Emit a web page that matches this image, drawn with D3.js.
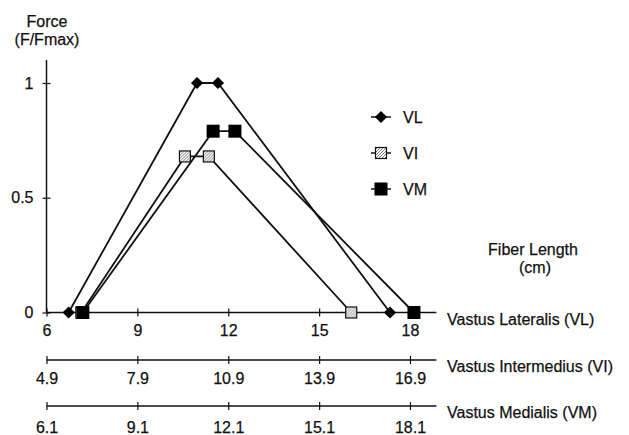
<!DOCTYPE html>
<html lang="en">
<head>
  <meta charset="UTF-8">
  <title>Force vs Fiber Length</title>
  <script src="https://d3js.org/d3.v7.min.js"></script>
  <style>
    body { margin: 0; background: #fff; }
    text { font-family: "Liberation Sans", Arial, sans-serif; font-size: 16px; fill: #111; stroke: #111; stroke-width: 0.25px; }
  </style>
</head>
<body>
  <svg width="629" height="435"></svg>

  <script>
    // each muscle's fiber length is read on its own axis (cm)
    const vlLength = [6.73, 10.97, 11.66, 17.34];
    const vlForce  = [0, 1, 1, 0];
    const viLength = [6.05, 9.47, 10.26, 14.96];
    const viForce  = [0, 0.68, 0.68, 0];
    const vmLength = [7.3, 11.6, 12.32, 18.23];
    const vmForce  = [0, 0.79, 0.79, 0];

    const vlTicks = [6, 9, 12, 15, 18];
    const viTicks = [4.9, 7.9, 10.9, 13.9, 16.9];
    const vmTicks = [6.1, 9.1, 12.1, 15.1, 18.1];
    const forceTicks = [0, 0.5, 1];

    const svg = d3.select("svg");

    const left = 46.5, right = 410;
    const xVL = d3.scaleLinear().domain([6, 18]).range([left, right]);
    const xVI = d3.scaleLinear().domain([4.9, 16.9]).range([left, right]);
    const xVM = d3.scaleLinear().domain([6.1, 18.1]).range([left, right]);
    const y = d3.scaleLinear().domain([0, 1]).range([312.5, 83]);

    // hatch for VI marker
    const defs = svg.append("defs");
    const pat = defs.append("pattern")
        .attr("id", "hatch")
        .attr("width", 3).attr("height", 3)
        .attr("patternUnits", "userSpaceOnUse");
    pat.append("rect").attr("width", 3).attr("height", 3).attr("fill", "#fff");
    pat.append("path").attr("d", "M0,3 L3,0").attr("stroke", "#555").attr("stroke-width", 0.8);

    // bottom axes
    function drawAxis(scale, ticks, yPos, label, extendTo, pad) {
      const g = svg.append("g").attr("transform", `translate(0,${yPos})`);
      g.call(d3.axisBottom(scale).tickValues(ticks).tickFormat(d => d).tickSize(4).tickPadding(pad));
      g.select(".domain").remove();
      g.selectAll(".tick line").attr("y1", -4).attr("y2", 4).attr("stroke", "#111").attr("stroke-width", 1.2);
      g.selectAll(".tick text").style("font-size", "16px").attr("fill", "#111");
      g.append("line")
          .attr("x1", scale.range()[0]).attr("x2", scale(extendTo))
          .attr("stroke", "#111").attr("stroke-width", 1.5);
      svg.append("text")
          .attr("x", 447).attr("y", yPos + 12)
          .text(label);
    }
    drawAxis(xVL, vlTicks, 312.5, "Vastus Lateralis (VL)", 18.87, 8);
    drawAxis(xVI, viTicks, 360, "Vastus Intermedius (VI)", 17.77, 9);
    drawAxis(xVM, vmTicks, 406, "Vastus Medialis (VM)", 18.97, 12);

    // y axis
    const gy = svg.append("g").attr("transform", `translate(${left},0)`);
    gy.call(d3.axisLeft(y).tickValues(forceTicks).tickFormat(d => d).tickSize(4).tickPadding(9));
    gy.select(".domain").remove();
    gy.selectAll(".tick line").attr("x1", -4).attr("x2", 4).attr("stroke", "#111").attr("stroke-width", 1.2);
    gy.selectAll(".tick text").style("font-size", "16px").attr("fill", "#111");
    gy.append("line").attr("y1", y(0)).attr("y2", y(1.1)).attr("stroke", "#111").attr("stroke-width", 1.5);

    svg.append("text").attr("x", 47).attr("y", 27).attr("text-anchor", "middle").text("Force");
    svg.append("text").attr("x", 47).attr("y", 45).attr("text-anchor", "middle").text("(F/Fmax)");
    svg.append("text").attr("x", 533).attr("y", 255).attr("text-anchor", "middle").text("Fiber Length");
    svg.append("text").attr("x", 535).attr("y", 273).attr("text-anchor", "middle").text("(cm)");

    const series = [
      { name: "VL", xs: vlLength, ys: vlForce, scale: xVL, shape: "diamond" },
      { name: "VI", xs: viLength, ys: viForce, scale: xVI, shape: "hatch" },
      { name: "VM", xs: vmLength, ys: vmForce, scale: xVM, shape: "square" }
    ];

    function marker(g, shape) {
      if (shape === "diamond") {
        g.append("path").attr("d", d3.symbol(d3.symbolDiamond2, 95)()).attr("fill", "#000");
      } else if (shape === "square") {
        g.append("rect").attr("x", -6.5).attr("y", -6.5).attr("width", 13).attr("height", 13).attr("fill", "#000");
      } else {
        g.append("rect").attr("x", -5.5).attr("y", -5.5).attr("width", 11).attr("height", 11)
            .attr("fill", "url(#hatch)").attr("stroke", "#111").attr("stroke-width", 1.2);
      }
    }

    const line = d3.line();
    series.forEach(s => {
      const pts = s.xs.map((v, i) => [s.scale(v), y(s.ys[i])]);
      svg.append("path")
          .attr("d", line(pts))
          .attr("fill", "none")
          .attr("stroke", "#111")
          .attr("stroke-width", 1.8);
    });
    series.forEach(s => {
      s.xs.forEach((v, i) => {
        const g = svg.append("g").attr("transform", `translate(${s.scale(v)},${y(s.ys[i])})`);
        marker(g, s.shape);
      });
    });

    // legend
    const legendY = [117, 153, 189];
    series.forEach((s, i) => {
      const g = svg.append("g").attr("transform", `translate(381,${legendY[i]})`);
      g.append("line").attr("x1", -10).attr("x2", 10).attr("stroke", "#111").attr("stroke-width", 1.5);
      marker(g, s.shape);
      svg.append("text").attr("x", 403).attr("y", legendY[i] + 6).text(s.name);
    });
  </script>
</body>
</html>
